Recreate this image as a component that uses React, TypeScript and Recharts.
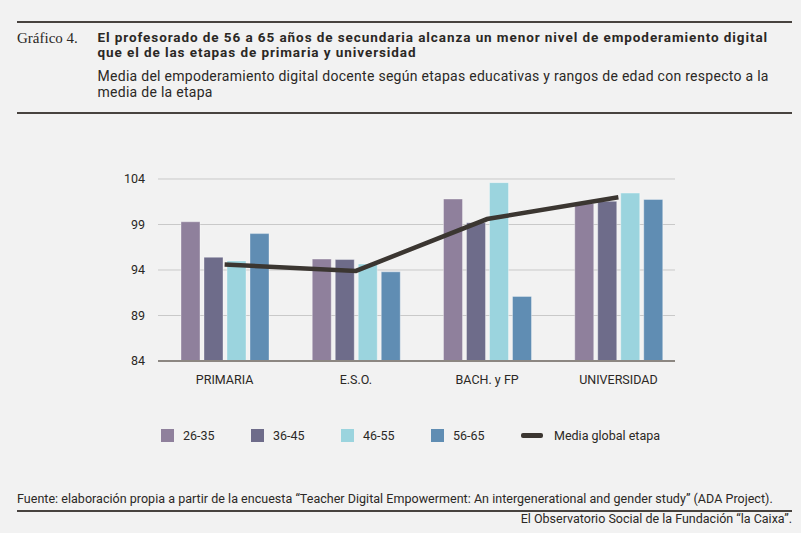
import React from 'react';
import {
    ComposedChart,
    Bar,
    Line,
    XAxis,
    YAxis,
    CartesianGrid,
} from 'recharts';

const STAGES = ['PRIMARIA', 'E.S.O.', 'BACH. y FP', 'UNIVERSIDAD'];
const AGE_26_35 = [99.3, 95.2, 101.8, 101.3];
const AGE_36_45 = [95.4, 95.15, 99.2, 101.55];
const AGE_46_55 = [95.0, 94.65, 103.6, 102.45];
const AGE_56_65 = [98.0, 93.8, 91.1, 101.75];
const STAGE_MEAN = [94.6, 93.9, 99.6, 102.0];
const Y_TICKS = [84, 89, 94, 99, 104];

const SERIES = [
    { key: 'a2635', name: '26-35', color: '#8f809c' },
    { key: 'a3645', name: '36-45', color: '#6e6c8a' },
    { key: 'a4655', name: '46-55', color: '#9bd4de' },
    { key: 'a5665', name: '56-65', color: '#608db3' },
];
const LINE_NAME = 'Media global etapa';
const LINE_COLOR = '#3b3631';

const TITLE_LINES = [
    'El profesorado de 56 a 65 años de secundaria alcanza un menor nivel de empoderamiento digital',
    'que el de las etapas de primaria y universidad',
];
const SUBTITLE_LINES = [
    'Media del empoderamiento digital docente según etapas educativas y rangos de edad con respecto a la',
    'media de la etapa',
];

const TEXT = '#2b2825';
const RULE = '#48433f';
const FONT = 'Roboto, "Liberation Sans", sans-serif';

const data = STAGES.map((stage, i) => ({
    stage,
    a2635: AGE_26_35[i],
    a3645: AGE_36_45[i],
    a4655: AGE_46_55[i],
    a5665: AGE_56_65[i],
    media: STAGE_MEAN[i],
}));

function Rule({ top, height = 2 }: { top: number; height?: number }) {
    return (
        <div
            style={{
                position: 'absolute',
                left: 17,
                width: 775,
                top,
                height,
                background: RULE,
            }}
        />
    );
}

export default function App() {
    return (
        <div
            style={{
                position: 'relative',
                width: 801,
                height: 533,
                background: '#f2f2f2',
                fontFamily: FONT,
                color: TEXT,
                overflow: 'hidden',
            }}
        >
            <style>{`body{margin:0}`}</style>

            <Rule top={20.5} />
            <div
                style={{
                    position: 'absolute',
                    left: 17,
                    top: 31.5,
                    fontFamily: '"Liberation Serif", "DejaVu Serif", serif',
                    fontSize: 15,
                    lineHeight: '13px',
                    whiteSpace: 'nowrap',
                }}
            >
                Gráfico 4.
            </div>
            {TITLE_LINES.map((t, i) => (
                <div
                    key={t}
                    style={{
                        position: 'absolute',
                        left: 97.5,
                        top: 29.6 + i * 15.8,
                        fontSize: 13.5,
                        letterSpacing: 0.92,
                        fontWeight: 700,
                        lineHeight: '15.8px',
                        whiteSpace: 'nowrap',
                    }}
                >
                    {t}
                </div>
            ))}
            {SUBTITLE_LINES.map((t, i) => (
                <div
                    key={t}
                    style={{
                        position: 'absolute',
                        left: 97.5,
                        top: 67.9 + i * 16.4,
                        fontSize: 14,
                        letterSpacing: 0.28,
                        lineHeight: '16.4px',
                        whiteSpace: 'nowrap',
                    }}
                >
                    {t}
                </div>
            ))}
            <Rule top={112.3} />

            <div style={{ position: 'absolute', left: 0, top: 0 }}>
                <ComposedChart
                    width={801}
                    height={420}
                    data={data}
                    margin={{ top: 179, right: 126, bottom: 29, left: 0 }}
                    barSize={19}
                    barGap={4}
                >
                    <CartesianGrid
                        vertical={false}
                        stroke="#c9c9c9"
                        strokeWidth={1}
                    />
                    <XAxis
                        dataKey="stage"
                        height={30}
                        padding={{ left: 1, right: -9 }}
                        tickLine={false}
                        tickSize={0}
                        tickMargin={14}
                        axisLine={{ stroke: '#8c8782', strokeWidth: 2 }}
                        tick={{ fill: TEXT, fontSize: 12.5, fontFamily: FONT }}
                        interval={0}
                    />
                    <YAxis
                        width={158}
                        domain={[84, 104]}
                        ticks={Y_TICKS}
                        allowDataOverflow
                        tickLine={false}
                        axisLine={false}
                        tickSize={0}
                        tickMargin={13}
                        tick={{ fill: TEXT, fontSize: 12.5, fontFamily: FONT }}
                    />
                    {SERIES.map((s) => (
                        <Bar
                            key={s.key}
                            dataKey={s.key}
                            name={s.name}
                            fill={s.color}
                            stroke="rgba(255,255,255,0.35)"
                            strokeWidth={1}
                            isAnimationActive={false}
                        />
                    ))}
                    <Line
                        dataKey="media"
                        name={LINE_NAME}
                        type="linear"
                        stroke={LINE_COLOR}
                        strokeWidth={4.5}
                        dot={false}
                        activeDot={false}
                        isAnimationActive={false}
                    />
                </ComposedChart>
            </div>

            <div
                style={{
                    position: 'absolute',
                    left: 161,
                    top: 427.5,
                    height: 16,
                    display: 'flex',
                    alignItems: 'center',
                    fontSize: 12.5,
                    whiteSpace: 'nowrap',
                }}
            >
                {SERIES.map((s) => (
                    <div
                        key={s.key}
                        style={{ width: 90, display: 'flex', alignItems: 'center' }}
                    >
                        <span
                            style={{
                                width: 12.5,
                                height: 12.5,
                                background: s.color,
                                marginRight: 9.5,
                                display: 'inline-block',
                            }}
                        />
                        {s.name}
                    </div>
                ))}
                <div style={{ display: 'flex', alignItems: 'center' }}>
                    <span
                        style={{
                            width: 22,
                            height: 4.5,
                            borderRadius: 2,
                            background: LINE_COLOR,
                            marginRight: 11,
                            display: 'inline-block',
                        }}
                    />
                    {LINE_NAME}
                </div>
            </div>

            <div
                style={{
                    position: 'absolute',
                    left: 17,
                    top: 490.5,
                    fontSize: 12.5,
                    letterSpacing: 0.03,
                    lineHeight: '15px',
                    whiteSpace: 'nowrap',
                }}
            >
                Fuente: elaboración propia a partir de la encuesta “Teacher Digital Empowerment: An intergenerational and gender study” (ADA Project).
            </div>
            <Rule top={510} height={1.5} />
            <div
                style={{
                    position: 'absolute',
                    right: 9,
                    top: 511,
                    fontSize: 12.5,
                    lineHeight: '15px',
                    whiteSpace: 'nowrap',
                }}
            >
                El Observatorio Social de la Fundación “la Caixa”.
            </div>
        </div>
    );
}
